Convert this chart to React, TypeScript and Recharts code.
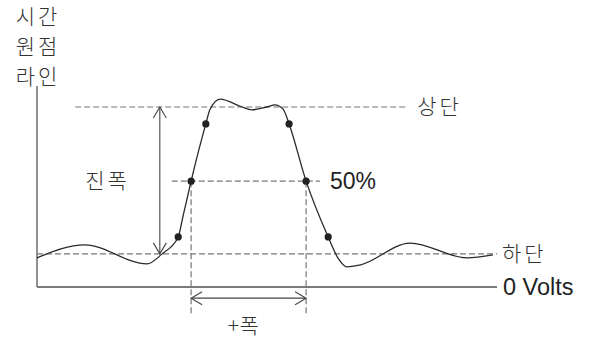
import React from 'react';
import { ComposedChart, Line, XAxis, YAxis, ReferenceLine, ReferenceDot } from 'recharts';

// waveform samples: time (arbitrary units) and volts
const TIME = [0, 1.04, 2.39, 2.72, 3.07, 3.17, 3.35, 3.67, 3.76, 3.98, 4.46, 4.67, 5.0, 5.17, 5.35, 5.48, 5.85, 6.33, 6.54, 6.74, 7.02, 8.11, 9.35, 9.91];
const VOLTS = [0.81, 1.17, 0.64, 0.92, 1.39, 1.94, 2.94, 4.53, 4.93, 5.22, 5.0, 4.92, 5.0, 5.06, 4.94, 4.53, 2.94, 1.39, 0.81, 0.56, 0.61, 1.22, 0.81, 0.89];

// measurement points (10%, 50%, 90% crossings)
const DOT_T = [3.07, 3.35, 3.67, 5.48, 5.85, 6.33];
const DOT_V = [1.39, 2.94, 4.53, 4.53, 2.94, 1.39];

// levels
const TOP = 5.0;
const BASE = 0.92;
const MID = 2.94;
const ZERO = 0;

// annotation extents
const TOP_LINE_T = [0.83, 8.07];
const MID_LINE_T = [2.93, 6.15];
const BASE_LINE_T = [0, 10];
const AXIS_T = [0, 10];
const AXIS_TOP_V = 5.58;
const WIDTH_T = [3.35, 5.85];
const WIDTH_ARROW_V = -0.31;
const CURSOR_BOTTOM_V = -0.81;
const AMP_T = 2.67;

// labels
const ORIGIN_LINES = ['시간', '원점', '라인'];
const TOP_LABEL = '상단';
const BASE_LABEL = '하단';
const MID_LABEL = '50%';
const ZERO_LABEL = '0 Volts';
const AMP_LABEL = '진폭';
const WIDTH_LABEL = '+폭';

const waveData = TIME.map((t, i) => ({ t, v: VOLTS[i] }));

const KR = '"Noto Sans CJK KR", "Noto Sans", sans-serif';
const LAT = '"Liberation Sans", Arial, sans-serif';
const DASH = '6 3';
const DASH_COLOR = '#777';
const TEXT_COLOR = '#333';
const KR_WEIGHT = 300;
const KR_SPACING = 3;

function Arrow(props: any) {
  const { x1, y1, x2, y2 } = props;
  const dx = x2 - x1;
  const dy = y2 - y1;
  const len = Math.hypot(dx, dy) || 1;
  const ux = dx / len;
  const uy = dy / len;
  const px = -uy;
  const py = ux;
  const L = 11;
  const W = 6.5;
  const head = (x: number, y: number, dir: number) =>
    `M${x + dir * ux * L + px * W},${y + dir * uy * L + py * W} L${x},${y} L${x + dir * ux * L - px * W},${y + dir * uy * L - py * W}`;
  return (
    <g>
      <line x1={x1} y1={y1} x2={x2} y2={y2} stroke="#444" strokeWidth={1.1} />
      <path d={head(x1, y1, 1)} fill="none" stroke="#444" strokeWidth={1.1} />
      <path d={head(x2, y2, -1)} fill="none" stroke="#444" strokeWidth={1.1} />
    </g>
  );
}

function OriginLabel(props: any) {
  const vb = props.viewBox || {};
  const cx = vb.x;
  const top = vb.y;
  return (
    <text
      x={cx}
      textAnchor="middle"
      fontFamily={KR}
      fontWeight={KR_WEIGHT}
      letterSpacing={KR_SPACING}
      fontSize={21}
      fill={TEXT_COLOR}
    >
      {ORIGIN_LINES.map((s, i) => (
        <tspan key={i} x={cx + 1} y={top - 2 - (ORIGIN_LINES.length - 1 - i) * 30}>
          {s}
        </tspan>
      ))}
    </text>
  );
}

const krLabel = (value: string, position: string, offset: number, extra: any = {}) => ({
  value,
  position,
  offset,
  fill: TEXT_COLOR,
  fontSize: 21,
  fontFamily: KR,
  fontWeight: KR_WEIGHT,
  letterSpacing: KR_SPACING,
  ...extra,
});

export default function App() {
  return (
    <div style={{ position: 'absolute', left: 0, top: 0, background: '#fff' }}>
      <ComposedChart
        width={589}
        height={339}
        data={waveData}
        margin={{ top: 35, right: 92, bottom: 16, left: 37 }}
      >
        <XAxis type="number" dataKey="t" domain={[0, 10]} hide />
        <YAxis type="number" domain={[-1, 7]} hide />

        {/* vertical origin line */}
        <ReferenceLine
          segment={[{ x: 0, y: ZERO }, { x: 0, y: AXIS_TOP_V }]}
          stroke="#555"
          strokeWidth={1.3}
          label={<OriginLabel />}
        />
        {/* 0 volts line */}
        <ReferenceLine
          segment={[{ x: AXIS_T[0], y: ZERO }, { x: AXIS_T[1], y: ZERO }]}
          stroke="#7a7a7a"
          strokeWidth={2}
          label={{ value: ZERO_LABEL, position: 'right', offset: 6, fill: '#222', fontSize: 23.5, fontFamily: LAT }}
        />
        {/* top level */}
        <ReferenceLine
          segment={[{ x: TOP_LINE_T[0], y: TOP }, { x: TOP_LINE_T[1], y: TOP }]}
          stroke={DASH_COLOR}
          strokeWidth={1.2}
          strokeDasharray={DASH}
          label={krLabel(TOP_LABEL, 'right', 9)}
        />
        {/* 50% level */}
        <ReferenceLine
          segment={[{ x: MID_LINE_T[0], y: MID }, { x: MID_LINE_T[1], y: MID }]}
          stroke={DASH_COLOR}
          strokeWidth={1.2}
          strokeDasharray={DASH}
          label={{ value: MID_LABEL, position: 'right', offset: 10, fill: '#222', fontSize: 23, fontFamily: LAT }}
        />
        {/* base level */}
        <ReferenceLine
          segment={[{ x: BASE_LINE_T[0], y: BASE }, { x: BASE_LINE_T[1], y: BASE }]}
          stroke={DASH_COLOR}
          strokeWidth={1.2}
          strokeDasharray={DASH}
          label={krLabel(BASE_LABEL, 'right', 5)}
        />
        {/* width cursors */}
        <ReferenceLine
          segment={[{ x: WIDTH_T[0], y: MID }, { x: WIDTH_T[0], y: CURSOR_BOTTOM_V }]}
          stroke={DASH_COLOR}
          strokeWidth={1.2}
          strokeDasharray={DASH}
        />
        <ReferenceLine
          segment={[{ x: WIDTH_T[1], y: MID }, { x: WIDTH_T[1], y: CURSOR_BOTTOM_V }]}
          stroke={DASH_COLOR}
          strokeWidth={1.2}
          strokeDasharray={DASH}
        />
        {/* amplitude arrow */}
        <ReferenceLine
          segment={[{ x: AMP_T, y: TOP }, { x: AMP_T, y: BASE }]}
          shape={Arrow}
          label={krLabel(AMP_LABEL, 'left', 30)}
        />
        {/* width arrow */}
        <ReferenceLine
          segment={[{ x: WIDTH_T[0], y: WIDTH_ARROW_V }, { x: WIDTH_T[1], y: WIDTH_ARROW_V }]}
          shape={Arrow}
          label={krLabel(WIDTH_LABEL, 'bottom', 20, { dx: -5, letterSpacing: 0.5 })}
        />

        <Line
          type="monotone"
          dataKey="v"
          stroke="#2a2a2a"
          strokeWidth={1.3}
          dot={false}
          activeDot={false}
          isAnimationActive={false}
        />

        {DOT_T.map((t, i) => (
          <ReferenceDot key={i} x={t} y={DOT_V[i]} r={3.6} fill="#222" stroke="none" />
        ))}
      </ComposedChart>
    </div>
  );
}
